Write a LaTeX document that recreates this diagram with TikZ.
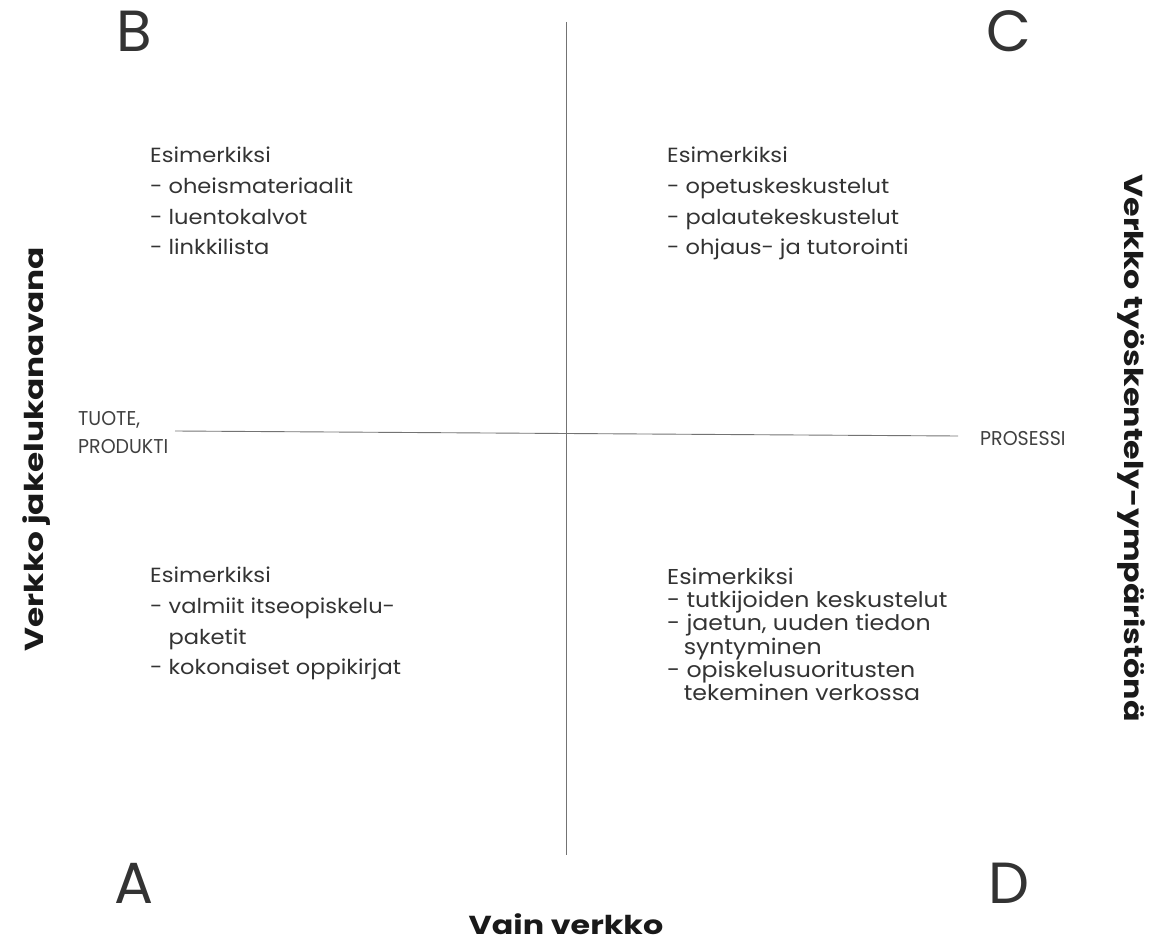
\documentclass[tikz,border=0pt]{standalone}
\usepackage{fontspec}
\setmainfont{Poppins}
\newfontfamily\exfont[FakeStretch=1.1]{Poppins}
\newfontfamily\sidefont[FakeStretch=1.22]{Poppins}
\newfontfamily\leftfont[FakeStretch=1.26]{Poppins}
\newfontfamily\polefont[FakeStretch=0.95]{Poppins}
\begin{document}
\begin{tikzpicture}[x=1pt,y=-1pt,
  axis/.style={draw=black!55, line width=0.9pt},
  corner/.style={font=\fontsize{58}{58}\selectfont, text=black!80, inner sep=0pt, anchor=base west},
  pole/.style={font=\polefont\fontsize{20}{28}\selectfont, text=black!75, inner sep=0pt, anchor=base west, align=left},
  ex/.style={font=\exfont\fontsize{20.5}{30.7}\selectfont, text=black!80, inner sep=0pt, anchor=north west, align=left},
  exb/.style={font=\exfont\fontsize{21.5}{23.2}\selectfont, text=black!80, inner sep=0pt, anchor=north west, align=left},
  side/.style={font=\sidefont\fontsize{26}{26}\selectfont\bfseries, text=black!90, inner sep=0pt}]
\useasboundingbox (0,0) rectangle (1151,941);
% axes
\coordinate (vtop) at (566,22);
\coordinate (vbot) at (566,855);
\coordinate (hl) at (175,431);
\coordinate (hr) at (958,436);
\draw[axis] (vtop) -- (vbot);
\draw[axis] (hl) -- (hr);
% corner letters
\node[corner] (B) at (116,52) {B};
\node[corner] (C) at (986,52) {C};
\node[corner] (A) at (114,903) {A};
\node[corner] (D) at (988,903) {D};
% poles
\node[pole] (tuote) at (78,453) {TUOTE,\\PRODUKTI};
\node[pole] (prosessi) at (980,445) {PROSESSI};
% examples
\node[ex] (exB) at (150,147) {Esimerkiksi\\- oheismateriaalit\\- luentokalvot\\- linkkilista};
\node[ex] (exC) at (667,147) {Esimerkiksi\\- opetuskeskustelut\\- palautekeskustelut\\- ohjaus- ja tutorointi};
\node[ex] (exA) at (150,567) {Esimerkiksi\\- valmiit itseopiskelu-\\\phantom{- }paketit\\- kokonaiset oppikirjat};
\node[exb] (exD) at (667,568) {Esimerkiksi\\- tutkijoiden keskustelut\\- jaetun, uuden tiedon\\\phantom{-}\,syntyminen\\- opiskelusuoritusten\\\phantom{-}\,tekeminen verkossa};
% side labels
\node[side, font=\leftfont\fontsize{26}{26}\selectfont\bfseries, rotate=90] (left) at (37,449) {Verkko jakelukanavana};
\node[side, rotate=-90] (right) at (1131,448) {Verkko työskentely-ympäristönä};
\node[side, anchor=base] (bottom) at (566,934) {Vain verkko};
\end{tikzpicture}
\end{document}
